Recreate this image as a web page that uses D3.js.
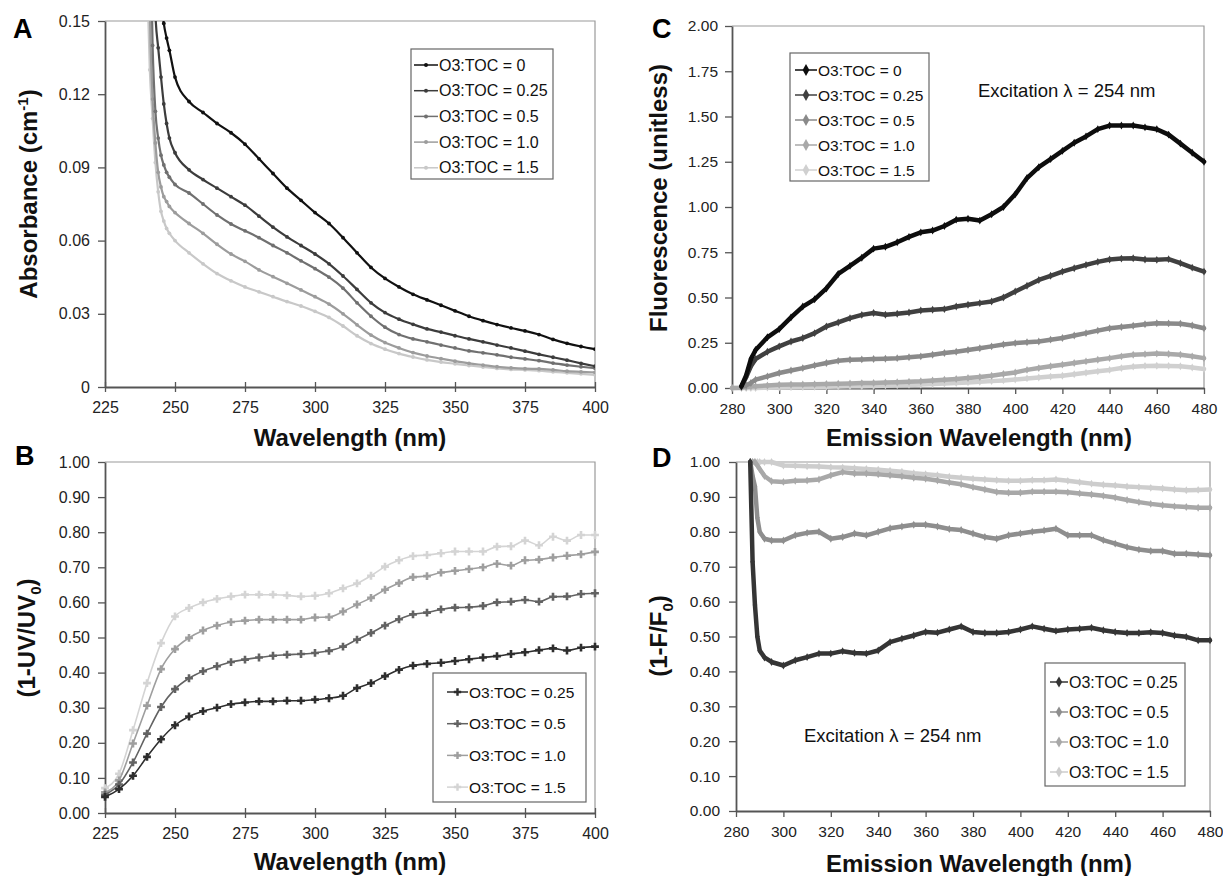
<!DOCTYPE html>
<html>
<head>
<meta charset="utf-8">
<script src="https://cdn.jsdelivr.net/npm/d3@7"></script>
<style>
  body { margin: 0; background: #fff; }
  svg { display: block; font-family: "Liberation Sans", Arial, Helvetica, sans-serif; }
</style>
</head>
<body>
<div id="chart"></div>
<script>
// Config
const width = 1223;
const height = 876;

// Legend labels
const ratioLabels = ["O3:TOC = 0", "O3:TOC = 0.25", "O3:TOC = 0.5", "O3:TOC = 1.0", "O3:TOC = 1.5"];
const noteText = "Excitation \u03bb = 254 nm";

// Panel A - absorbance
const absWl = [240, 241, 242, 243, 244, 245, 246, 247, 248, 250, 255, 260, 265, 270, 275, 280, 285, 290, 295, 300,
  305, 310, 315, 320, 325, 330, 335, 340, 345, 350, 355, 360, 365, 370, 375, 380, 385, 390, 395, 400];
const abs0 = [0.28, 0.25, 0.22, 0.2, 0.18, 0.16, 0.149, 0.143, 0.138, 0.127, 0.117, 0.1125, 0.108, 0.1042, 0.0995,
  0.0935, 0.0875, 0.0815, 0.0765, 0.0715, 0.067, 0.0612, 0.055, 0.049, 0.0445, 0.041, 0.038, 0.0357, 0.0335, 0.0312,
  0.029, 0.0272, 0.0256, 0.0242, 0.023, 0.0215, 0.0195, 0.0179, 0.0166, 0.0155];
const abs025 = [0.3, 0.25, 0.2, 0.153, 0.139, 0.127, 0.116, 0.108, 0.102, 0.096, 0.089, 0.085, 0.0815, 0.078, 0.0745,
  0.07, 0.0655, 0.0615, 0.058, 0.0545, 0.0505, 0.0455, 0.04, 0.0345, 0.0305, 0.0278, 0.0257, 0.0238, 0.0225, 0.021,
  0.0197, 0.0185, 0.0172, 0.016, 0.0147, 0.0134, 0.0122, 0.011, 0.0097, 0.0085];
const abs05 = [0.3, 0.2, 0.14, 0.113, 0.102, 0.095, 0.091, 0.088, 0.086, 0.083, 0.0795, 0.075, 0.0705, 0.0668, 0.064,
  0.0612, 0.058, 0.055, 0.0517, 0.0485, 0.045, 0.0405, 0.0345, 0.029, 0.0245, 0.0215, 0.0197, 0.0185, 0.0172, 0.016,
  0.0148, 0.014, 0.0132, 0.0122, 0.0115, 0.0108, 0.0098, 0.009, 0.0083, 0.0077];
const abs10 = [0.25, 0.155, 0.118, 0.1, 0.088, 0.082, 0.078, 0.076, 0.074, 0.0715, 0.067, 0.063, 0.0585, 0.0545, 0.0515,
  0.048, 0.0452, 0.0425, 0.0398, 0.037, 0.034, 0.03, 0.0255, 0.0213, 0.0182, 0.016, 0.0141, 0.0127, 0.0116, 0.0106,
  0.0097, 0.009, 0.0083, 0.0078, 0.0075, 0.0074, 0.007, 0.0065, 0.0062, 0.006];
const abs15 = [0.17, 0.13, 0.11, 0.092, 0.08, 0.072, 0.068, 0.065, 0.063, 0.06, 0.055, 0.0505, 0.0465, 0.0435, 0.041,
  0.039, 0.037, 0.035, 0.0332, 0.031, 0.0285, 0.025, 0.021, 0.0178, 0.0155, 0.0137, 0.0123, 0.0111, 0.0102, 0.0095,
  0.0088, 0.0082, 0.0076, 0.0072, 0.007, 0.0067, 0.0062, 0.0058, 0.0054, 0.005];

// Panel B - UV removal
const uvWl = [225, 230, 235, 240, 245, 250, 255, 260, 265, 270, 275, 280, 285, 290, 295, 300, 305, 310,
  315, 320, 325, 330, 335, 340, 345, 350, 355, 360, 365, 370, 375, 380, 385, 390, 395, 400];
const uv025 = [0.046, 0.068, 0.106, 0.16, 0.21, 0.25, 0.275, 0.29, 0.3, 0.31, 0.315, 0.318, 0.318, 0.32, 0.32, 0.323,
  0.327, 0.334, 0.356, 0.37, 0.39, 0.408, 0.42, 0.425, 0.428, 0.433, 0.438, 0.443, 0.447, 0.453, 0.458, 0.464, 0.469,
  0.463, 0.471, 0.474];
const uv05 = [0.052, 0.081, 0.144, 0.226, 0.302, 0.353, 0.384, 0.404, 0.418, 0.43, 0.437, 0.443, 0.448, 0.451, 0.453,
  0.456, 0.462, 0.474, 0.494, 0.513, 0.534, 0.552, 0.566, 0.571, 0.58, 0.585, 0.586, 0.59, 0.6, 0.602, 0.607, 0.602,
  0.616, 0.617, 0.624, 0.626];
const uv10 = [0.059, 0.093, 0.198, 0.306, 0.41, 0.467, 0.499, 0.52, 0.534, 0.544, 0.548, 0.551, 0.551, 0.551, 0.551,
  0.557, 0.558, 0.574, 0.594, 0.613, 0.636, 0.655, 0.672, 0.675, 0.685, 0.69, 0.695, 0.7, 0.71, 0.705, 0.72, 0.722,
  0.728, 0.733, 0.737, 0.744];
const uv15 = [0.071, 0.112, 0.236, 0.37, 0.484, 0.56, 0.584, 0.6, 0.61, 0.617, 0.622, 0.622, 0.622, 0.62, 0.617,
  0.619, 0.626, 0.64, 0.654, 0.676, 0.702, 0.72, 0.732, 0.735, 0.74, 0.745, 0.745, 0.745, 0.759, 0.76, 0.776, 0.763,
  0.787, 0.776, 0.792, 0.792];

// Panel C - fluorescence
const flWl = [280, 284, 286, 288, 290, 295, 300, 305, 310, 315, 320, 325, 330, 335, 340, 345, 350, 355, 360, 365,
  370, 375, 380, 385, 390, 395, 400, 405, 410, 415, 420, 425, 430, 435, 440, 445, 450, 455, 460, 465, 470, 475, 480];
const fl0 = [null, 0.01, 0.07, 0.16, 0.21, 0.28, 0.325, 0.39, 0.45, 0.49, 0.55, 0.63, 0.675, 0.72, 0.77, 0.78, 0.805,
  0.835, 0.86, 0.87, 0.895, 0.93, 0.935, 0.925, 0.96, 1.0, 1.07, 1.16, 1.22, 1.265, 1.31, 1.355, 1.39, 1.43, 1.45,
  1.45, 1.45, 1.44, 1.43, 1.4, 1.35, 1.3, 1.25];
const fl025 = [null, 0.01, 0.06, 0.12, 0.16, 0.2, 0.23, 0.257, 0.276, 0.303, 0.34, 0.362, 0.386, 0.404, 0.414, 0.405,
  0.41, 0.417, 0.428, 0.432, 0.436, 0.45, 0.46, 0.469, 0.478, 0.5, 0.533, 0.565, 0.597, 0.62, 0.643, 0.662, 0.68,
  0.697, 0.71, 0.715, 0.717, 0.71, 0.708, 0.712, 0.69, 0.665, 0.643];
const fl05 = [null, 0.005, 0.015, 0.028, 0.046, 0.064, 0.083, 0.097, 0.11, 0.125, 0.138, 0.15, 0.156, 0.158, 0.16,
  0.162, 0.165, 0.17, 0.175, 0.184, 0.193, 0.2, 0.21, 0.22, 0.23, 0.24, 0.248, 0.253, 0.257, 0.267, 0.276, 0.29,
  0.303, 0.317, 0.33, 0.337, 0.344, 0.352, 0.358, 0.357, 0.355, 0.345, 0.33];
const fl10 = [0, 0.002, 0.005, 0.008, 0.01, 0.014, 0.018, 0.019, 0.02, 0.021, 0.022, 0.024, 0.025, 0.027, 0.028,
  0.03, 0.032, 0.035, 0.037, 0.042, 0.046, 0.05, 0.055, 0.061, 0.068, 0.077, 0.086, 0.1, 0.11, 0.12, 0.129, 0.138,
  0.147, 0.156, 0.165, 0.175, 0.184, 0.187, 0.19, 0.188, 0.184, 0.175, 0.165];
const fl15 = [0, 0, 0, 0, 0, 0.002, 0.003, 0.004, 0.005, 0.006, 0.007, 0.008, 0.009, 0.01, 0.011, 0.013, 0.015,
  0.017, 0.019, 0.022, 0.025, 0.028, 0.031, 0.034, 0.038, 0.042, 0.047, 0.053, 0.058, 0.063, 0.068, 0.076, 0.084,
  0.092, 0.1, 0.11, 0.118, 0.122, 0.123, 0.122, 0.12, 0.113, 0.105];

// Panel D - fluorescence removal
const qWl = [286, 287, 288, 289, 290, 292, 295, 300, 305, 310, 315, 320, 325, 330, 335, 340, 345, 350, 355, 360,
  365, 370, 375, 380, 385, 390, 395, 400, 405, 410, 415, 420, 425, 430, 435, 440, 445, 450, 455, 460, 465, 470, 475, 480];
const q025 = [1.0, 0.714, 0.59, 0.5, 0.46, 0.44, 0.427, 0.417, 0.432, 0.441, 0.451, 0.451, 0.458, 0.453, 0.451, 0.46,
  0.484, 0.494, 0.503, 0.513, 0.511, 0.52, 0.529, 0.513, 0.51, 0.51, 0.513, 0.52, 0.529, 0.522, 0.516, 0.52, 0.522,
  0.525, 0.518, 0.513, 0.51, 0.51, 0.512, 0.51, 0.503, 0.499, 0.489, 0.489];
const q05 = [1.0, 0.96, 0.93, 0.84, 0.8, 0.78, 0.775, 0.775, 0.79, 0.797, 0.8, 0.78, 0.785, 0.795, 0.79, 0.8, 0.81,
  0.815, 0.82, 0.82, 0.815, 0.808, 0.805, 0.795, 0.785, 0.78, 0.79, 0.795, 0.8, 0.804, 0.809, 0.79, 0.79, 0.79, 0.776,
  0.766, 0.756, 0.749, 0.745, 0.745, 0.737, 0.737, 0.735, 0.733];
const q10 = [1.0, 1.0, 1.0, 0.99, 0.98, 0.96, 0.945, 0.943, 0.946, 0.947, 0.95, 0.962, 0.971, 0.967, 0.967, 0.965,
  0.962, 0.959, 0.955, 0.952, 0.947, 0.941, 0.936, 0.928, 0.921, 0.914, 0.912, 0.912, 0.915, 0.915, 0.915, 0.913,
  0.91, 0.907, 0.903, 0.898, 0.891, 0.885, 0.88, 0.876, 0.873, 0.871, 0.869, 0.869];
const q15 = [1.0, 1.0, 1.0, 1.0, 1.0, 1.0, 1.0, 0.99, 0.989, 0.988, 0.987, 0.985, 0.984, 0.982, 0.98, 0.978, 0.975,
  0.972, 0.968, 0.965, 0.962, 0.958, 0.955, 0.952, 0.95, 0.948, 0.946, 0.946, 0.948, 0.948, 0.95, 0.946, 0.942,
  0.938, 0.935, 0.933, 0.93, 0.928, 0.926, 0.924, 0.921, 0.919, 0.92, 0.921];

// Ticks
const uvTicksX = [225, 250, 275, 300, 325, 350, 375, 400];
const emTicksX = [280, 300, 320, 340, 360, 380, 400, 420, 440, 460, 480];
const absTicksY = [0, 0.03, 0.06, 0.09, 0.12, 0.15];
const tenthTicks = [0, 0.1, 0.2, 0.3, 0.4, 0.5, 0.6, 0.7, 0.8, 0.9, 1.0];
const flTicksY = [0, 0.25, 0.5, 0.75, 1.0, 1.25, 1.5, 1.75, 2.0];

const fmt2 = d3.format(".2f");

const svg = d3.select("#chart").append("svg")
    .attr("width", width)
    .attr("height", height);

// Panel setup
const panels = [
  {
    id: "A", letterX: 13, letterY: 38,
    box: { l: 105, t: 21, r: 595, b: 387 }, clipPad: 0,
    xDomain: [225, 400], yDomain: [0, 0.15], xTicks: uvTicksX, yTicks: absTicksY,
    yFmt: d => d === 0 ? "0" : fmt2(d), tickFont: 16, xCross: true, yPad: 8,
    xTitle: "Wavelength (nm)", xTitleX: 350, xTitleY: 446,
    yTitle: [{ t: "Absorbance (cm" }, { t: "-1", sup: true }, { t: ")" }], yTitleX: 37, yTitleY: 194,
    curve: d3.curveMonotoneX, lineWidth: 2.2, marker: "circle", markerSize: 1.9,
    series: [
      { x: absWl, y: abs0, color: "#111111", label: ratioLabels[0] },
      { x: absWl, y: abs025, color: "#3c3c3c", label: ratioLabels[1] },
      { x: absWl, y: abs05, color: "#707070", label: ratioLabels[2] },
      { x: absWl, y: abs10, color: "#9c9c9c", label: ratioLabels[3] },
      { x: absWl, y: abs15, color: "#c8c8c8", label: ratioLabels[4] }
    ],
    legend: { x: 411, y: 49, w: 142, h: 130, first: 16, step: 25.7, s0: 3, s1: 27, tx: 28, font: 16, ms: 2 }
  },
  {
    id: "B", letterX: 15, letterY: 465,
    box: { l: 105, t: 462, r: 595, b: 813 }, clipPad: 4,
    xDomain: [225, 400], yDomain: [0, 1], xTicks: uvTicksX, yTicks: tenthTicks,
    yFmt: fmt2, tickFont: 16, xCross: true, yPad: 8,
    xTitle: "Wavelength (nm)", xTitleX: 350, xTitleY: 870,
    yTitle: [{ t: "(1-UV/UV" }, { t: "0", sub: true }, { t: ")" }], yTitleX: 35, yTitleY: 638,
    curve: d3.curveMonotoneX, lineWidth: 1.6, marker: "cross", markerSize: 34,
    series: [
      { x: uvWl, y: uv025, color: "#2e2e2e", label: ratioLabels[1] },
      { x: uvWl, y: uv05, color: "#626262", label: ratioLabels[2] },
      { x: uvWl, y: uv10, color: "#9e9e9e", label: ratioLabels[3] },
      { x: uvWl, y: uv15, color: "#d4d4d4", label: ratioLabels[4] }
    ],
    legend: { x: 433, y: 673, w: 153, h: 129, first: 19, step: 31.7, s0: 14, s1: 35, tx: 36, font: 15.5, ms: 30 }
  },
  {
    id: "C", letterX: 652, letterY: 38,
    box: { l: 732, t: 26, r: 1204, b: 388 }, clipPad: 5,
    xDomain: [280, 480], yDomain: [0, 2], xTicks: emTicksX, yTicks: flTicksY,
    yFmt: fmt2, tickFont: 15.5, xCross: false, yPad: 7,
    xTitle: "Emission Wavelength (nm)", xTitleX: 979, xTitleY: 446,
    yTitle: [{ t: "Fluorescence (unitless)" }], yTitleX: 667, yTitleY: 198,
    curve: d3.curveLinear, lineWidth: 4.5, marker: "diamond", markerSize: 18,
    series: [
      { x: flWl, y: fl0, color: "#0d0d0d", label: ratioLabels[0] },
      { x: flWl, y: fl025, color: "#404040", label: ratioLabels[1] },
      { x: flWl, y: fl05, color: "#8a8a8a", label: ratioLabels[2] },
      { x: flWl, y: fl10, color: "#a9a9a9", label: ratioLabels[3] },
      { x: flWl, y: fl15, color: "#d0d0d0", label: ratioLabels[4] }
    ],
    legend: { x: 790, y: 53, w: 139, h: 128, first: 17, step: 25, s0: 5, s1: 27, tx: 28, font: 15.5, ms: 40 },
    note: { x: 978, y: 97 }
  },
  {
    id: "D", letterX: 652, letterY: 467,
    box: { l: 736, t: 462, r: 1210, b: 811 }, clipPad: 5,
    xDomain: [280, 480], yDomain: [0, 1], xTicks: emTicksX, yTicks: tenthTicks,
    yFmt: fmt2, tickFont: 15.5, xCross: false, yPad: 9,
    xTitle: "Emission Wavelength (nm)", xTitleX: 979, xTitleY: 872,
    yTitle: [{ t: "(1-F/F" }, { t: "0", sub: true }, { t: ")" }], yTitleX: 667, yTitleY: 636,
    curve: d3.curveLinear, lineWidth: 4.5, marker: "diamond", markerSize: 18,
    series: [
      { x: qWl, y: q025, color: "#353535", label: ratioLabels[1] },
      { x: qWl, y: q05, color: "#8e8e8e", label: ratioLabels[2] },
      { x: qWl, y: q10, color: "#a8a8a8", label: ratioLabels[3] },
      { x: qWl, y: q15, color: "#cdcdcd", label: ratioLabels[4] }
    ],
    legend: { x: 1045, y: 663, w: 140, h: 123, first: 19, step: 30, s0: 5, s1: 23, tx: 24, font: 16, ms: 36 },
    note: { x: 804, y: 742 }
  }
];

function markerPath(type, size) {
  if (type === "cross") return d3.symbol(d3.symbolCross, size)();
  if (type === "diamond") return d3.symbol(d3.symbolDiamond, size)();
  return null;
}

function drawPanel(p) {
  const { l, t, r, b } = p.box;
  const g = svg.append("g").attr("class", "panel-" + p.id);

  const x = d3.scaleLinear().domain(p.xDomain).range([l, r]);
  const y = d3.scaleLinear().domain(p.yDomain).range([b, t]);

  // clip
  const clipId = "clip" + p.id;
  svg.append("clipPath").attr("id", clipId)
    .append("rect")
    .attr("x", l - p.clipPad).attr("y", t - p.clipPad)
    .attr("width", r - l + 2 * p.clipPad).attr("height", b - t + 2 * p.clipPad);

  // frame top + right
  g.append("path")
    .attr("d", `M${l},${t}H${r}V${b}`)
    .attr("fill", "none")
    .attr("stroke", "#9a9a9a")
    .attr("stroke-width", 1.2);

  // y axis
  const yAxis = g.append("g")
    .attr("transform", `translate(${l},0)`)
    .call(d3.axisLeft(y).tickValues(p.yTicks).tickFormat(p.yFmt)
      .tickSizeInner(7).tickSizeOuter(0).tickPadding(p.yPad));

  // x axis
  const xAxis = g.append("g")
    .attr("transform", `translate(0,${b})`)
    .call(d3.axisBottom(x).tickValues(p.xTicks).tickFormat(d3.format("d"))
      .tickSizeInner(p.xCross ? 5 : 6).tickSizeOuter(0).tickPadding(p.xCross ? 10 : 9));
  if (p.xCross) xAxis.selectAll(".tick line").attr("y1", -5);

  [yAxis, xAxis].forEach(ax => {
    ax.select(".domain").attr("stroke", "#555").attr("stroke-width", 1.8);
    ax.selectAll(".tick line").attr("stroke", "#555").attr("stroke-width", 1.3);
    ax.selectAll(".tick text")
      .attr("fill", "#222")
      .style("font-size", p.tickFont + "px")
      .style("font-family", '"Liberation Sans", Arial, sans-serif');
  });

  // axis titles
  g.append("text")
    .attr("x", p.xTitleX).attr("y", p.xTitleY)
    .attr("text-anchor", "middle")
    .attr("font-weight", "bold")
    .attr("font-size", 24)
    .attr("fill", "#111")
    .text(p.xTitle);

  const yt = g.append("text")
    .attr("transform", `translate(${p.yTitleX},${p.yTitleY}) rotate(-90)`)
    .attr("text-anchor", "middle")
    .attr("font-weight", "bold")
    .attr("font-size", 24)
    .attr("fill", "#111");
  let shift = 0;
  p.yTitle.forEach(part => {
    const ts = yt.append("tspan").text(part.t);
    let target = 0;
    if (part.sup) { target = -9; ts.attr("font-size", 15); }
    if (part.sub) { target = 6; ts.attr("font-size", 15); }
    if (target !== shift) { ts.attr("dy", target - shift); shift = target; }
  });

  // panel letter
  g.append("text")
    .attr("x", p.letterX).attr("y", p.letterY)
    .attr("font-weight", "bold")
    .attr("font-size", 27)
    .attr("fill", "#000")
    .text(p.id);

  // series
  const plot = g.append("g").attr("clip-path", `url(#${clipId})`);
  const line = d3.line()
    .defined(d => d[1] !== null)
    .x(d => x(d[0]))
    .y(d => y(d[1]))
    .curve(p.curve);

  p.series.slice().reverse().forEach(s => {
    const pts = s.x.map((v, i) => [v, s.y[i]]);
    plot.append("path")
      .datum(pts)
      .attr("d", line)
      .attr("fill", "none")
      .attr("stroke", s.color)
      .attr("stroke-width", p.lineWidth)
      .attr("stroke-linejoin", "round")
      .attr("stroke-linecap", "round");

    const valid = pts.filter(d => d[1] !== null);
    if (p.marker === "circle") {
      plot.selectAll(null).data(valid).join("circle")
        .attr("cx", d => x(d[0])).attr("cy", d => y(d[1]))
        .attr("r", p.markerSize)
        .attr("fill", s.color);
    } else {
      plot.selectAll(null).data(valid).join("path")
        .attr("transform", d => `translate(${x(d[0])},${y(d[1])})`)
        .attr("d", markerPath(p.marker, p.markerSize))
        .attr("fill", s.color);
    }
  });

  // legend
  const lg = p.legend;
  const leg = g.append("g").attr("transform", `translate(${lg.x},${lg.y})`);
  leg.append("rect")
    .attr("width", lg.w).attr("height", lg.h)
    .attr("fill", "#fff")
    .attr("stroke", "#666")
    .attr("stroke-width", 1.2);

  p.series.forEach((s, i) => {
    const cy = lg.first + i * lg.step;
    leg.append("line")
      .attr("x1", lg.s0).attr("x2", lg.s1)
      .attr("y1", cy).attr("y2", cy)
      .attr("stroke", s.color)
      .attr("stroke-width", 1.5);
    const mx = (lg.s0 + lg.s1) / 2;
    if (p.marker === "circle") {
      leg.append("circle").attr("cx", mx).attr("cy", cy).attr("r", lg.ms).attr("fill", s.color);
    } else {
      leg.append("path")
        .attr("transform", `translate(${mx},${cy})`)
        .attr("d", markerPath(p.marker, lg.ms))
        .attr("fill", s.color);
    }
    leg.append("text")
      .attr("x", lg.tx).attr("y", cy + 5.5)
      .attr("font-size", lg.font)
      .attr("fill", "#111")
      .text(s.label);
  });

  // excitation note
  if (p.note) {
    g.append("text")
      .attr("x", p.note.x).attr("y", p.note.y)
      .attr("font-size", 18.5)
      .attr("fill", "#111")
      .text(noteText);
  }
}

panels.forEach(drawPanel);
</script>
</body>
</html>
